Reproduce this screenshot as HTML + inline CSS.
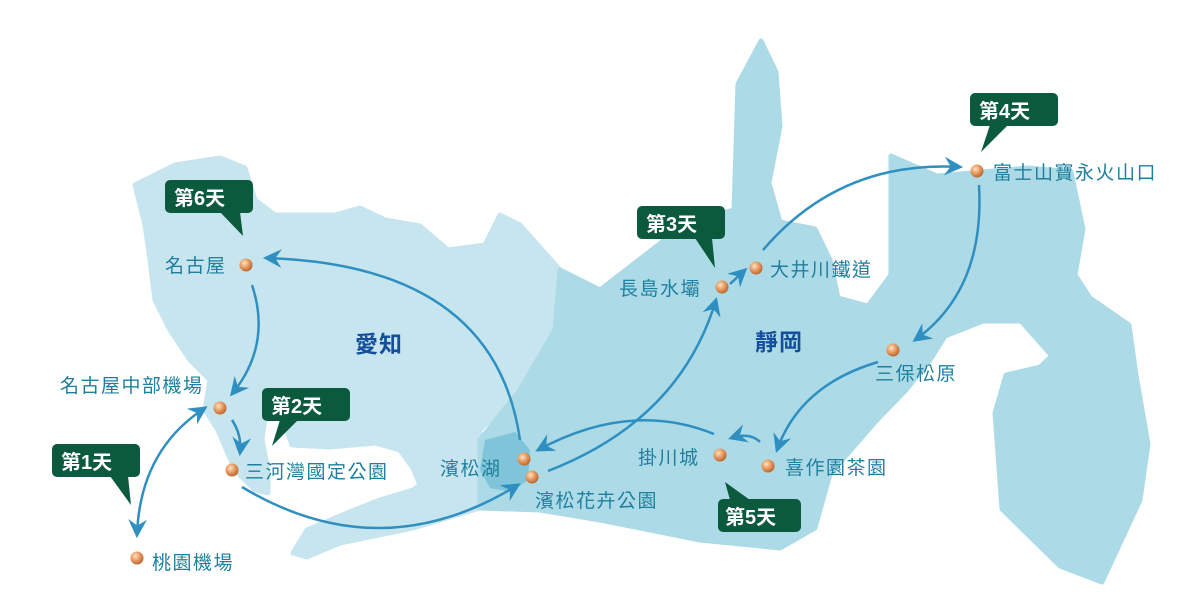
<!DOCTYPE html>
<html><head><meta charset="utf-8"><style>
html,body{margin:0;padding:0;background:#fff}
svg{display:block}
text{font-family:"Liberation Sans","Noto Sans CJK TC",sans-serif}
.lb{fill:#1f7f9e;font-size:19px;letter-spacing:1.5px}
.bl{fill:#fff;font-size:20px;font-weight:bold}
.pv{fill:#144f9a;font-size:23px;font-weight:bold;letter-spacing:1px}
.ar{fill:none;stroke:#2e8fc0;stroke-width:2.5}
</style></head><body>
<svg width="1200" height="616" viewBox="0 0 1200 616" xmlns="http://www.w3.org/2000/svg">
<defs>
<radialGradient id="dg" cx="0.38" cy="0.35" r="0.7"><stop offset="0" stop-color="#ffe2c4"/><stop offset="0.5" stop-color="#e79a60"/><stop offset="1" stop-color="#b5602a"/></radialGradient>
<marker id="ah" viewBox="0 0 12 12" refX="10" refY="6" markerWidth="7.5" markerHeight="7.5" orient="auto-start-reverse" markerUnits="strokeWidth"><path d="M0,0 L12,6 L0,12 L4,6z" fill="#2e8fc0"/></marker>
</defs>
<!-- Aichi -->
<path fill="#c6e5ee" stroke="#c6e5ee" stroke-width="5" stroke-linejoin="round" d="M135,185 L175,165 L220,158 L245,168 L255,200 L275,215 L335,215 L360,208 L385,220 L420,226 L448,250 L485,245 L500,215 L520,225 L560,270 L555,330 L520,390 L480,430 L480,508 L413,528 L340,543 L307,557 L293,553 L307,530 L347,513 L380,500 L413,490 L420,485 L413,468 L400,450 L375,443 L330,447 L292,445 L285,425 L275,413 L265,418 L262,440 L268,470 L268,493 L255,490 L235,470 L218,430 L205,410 L210,380 L190,360 L170,330 L155,300 L150,260 L145,225 Z"/>
<!-- Shizuoka -->
<path fill="#acdbe7" stroke="#acdbe7" stroke-width="5" stroke-linejoin="round" d="M761,41 L776,72 L780,126 L769,183 L780,222 L815,229 L830,260 L838,298 L868,306 L891,275 L891,156 L937,176 L983,172 L1029,168 L1071,172 L1083,229 L1075,275 L1090,298 L1129,325 L1136,375 L1148,444 L1140,500 L1102,582 L1060,566 L1002,509 L995,413 L1006,375 L1040,367 L1052,356 L1021,321 L983,321 L945,336 L930,360 L906,390 L876,421 L830,474 L815,528 L780,548 L700,540 L600,520 L540,510 L480,508 L480,440 L520,390 L555,330 L560,270 L600,290 L688,222 L734,210 L738,84 Z"/>
<path fill="#80c4d9" d="M485,440 L515,432 L530,450 L528,480 L512,492 L490,488 L480,470 Z"/>
<text class="pv" x="355" y="352">愛知</text>
<text class="pv" x="755" y="350">靜岡</text>
<!-- arrows -->
<path class="ar" marker-start="url(#ah)" marker-end="url(#ah)" d="M137,535 Q140,450 205,408"/>
<path class="ar" marker-end="url(#ah)" d="M252,285 Q272,345 232,394"/>
<path class="ar" marker-end="url(#ah)" d="M232,420 Q242,435 240,453"/>
<path class="ar" marker-end="url(#ah)" d="M242,487 Q380,570 518,485"/>
<path class="ar" marker-end="url(#ah)" d="M520,440 Q495,265 266,258"/>
<path class="ar" marker-end="url(#ah)" d="M548,471 Q680,420 716,300"/>
<path class="ar" marker-end="url(#ah)" d="M730,284 L745,270"/>
<path class="ar" marker-end="url(#ah)" d="M763,250 Q840,160 960,167"/>
<path class="ar" marker-end="url(#ah)" d="M979,185 Q985,290 915,340"/>
<path class="ar" marker-end="url(#ah)" d="M878,362 Q800,385 777,450"/>
<path class="ar" marker-end="url(#ah)" d="M760,442 Q750,432 731,438"/>
<path class="ar" marker-end="url(#ah)" d="M714,434 Q630,400 538,450"/>
<!-- dots -->
<g fill="url(#dg)">
<circle cx="246" cy="265" r="6.5"/><circle cx="220" cy="408" r="6.5"/><circle cx="232" cy="470" r="6.5"/><circle cx="137" cy="558" r="6.5"/>
<circle cx="524" cy="459" r="6.5"/><circle cx="532" cy="477" r="6.5"/><circle cx="722" cy="287" r="6.5"/><circle cx="756" cy="268" r="6.5"/>
<circle cx="977" cy="171" r="6.5"/><circle cx="893" cy="350" r="6.5"/><circle cx="720" cy="455" r="6.5"/><circle cx="768" cy="466" r="6.5"/>
</g>
<!-- labels -->
<text class="lb" x="165" y="272">名古屋</text>
<text class="lb" x="60" y="392">名古屋中部機場</text>
<text class="lb" x="245" y="478">三河灣國定公園</text>
<text class="lb" x="152" y="569">桃園機場</text>
<text class="lb" x="440" y="475">濱松湖</text>
<text class="lb" x="535" y="507">濱松花卉公園</text>
<text class="lb" x="619" y="295">長島水壩</text>
<text class="lb" x="770" y="276">大井川鐵道</text>
<text class="lb" x="993" y="179">富士山寶永火山口</text>
<text class="lb" x="875" y="380">三保松原</text>
<text class="lb" x="638" y="464">掛川城</text>
<text class="lb" x="785" y="474">喜作園茶園</text>
<!-- callouts -->
<g fill="#0b5a3e">
<rect x="165" y="180" width="88" height="33" rx="5"/><path d="M220,212 L240,212 L243,236Z"/>
<rect x="262" y="388" width="88" height="33" rx="5"/><path d="M280,420 L298,420 L272,446Z"/>
<rect x="52" y="444" width="88" height="33" rx="5"/><path d="M110,476 L128,476 L131,505Z"/>
<rect x="637" y="206" width="88" height="33" rx="5"/><path d="M695,238 L712,238 L715,268Z"/>
<rect x="970" y="93" width="88" height="33" rx="5"/><path d="M990,125 L1008,125 L981,152Z"/>
<rect x="718" y="499" width="83" height="33" rx="5"/><path d="M730,500 L750,500 L725,482Z"/>
</g>
<text class="bl" x="174" y="205">第6天</text>
<text class="bl" x="271" y="413">第2天</text>
<text class="bl" x="61" y="469">第1天</text>
<text class="bl" x="646" y="231">第3天</text>
<text class="bl" x="979" y="118">第4天</text>
<text class="bl" x="725" y="524">第5天</text>
</svg>
</body></html>
